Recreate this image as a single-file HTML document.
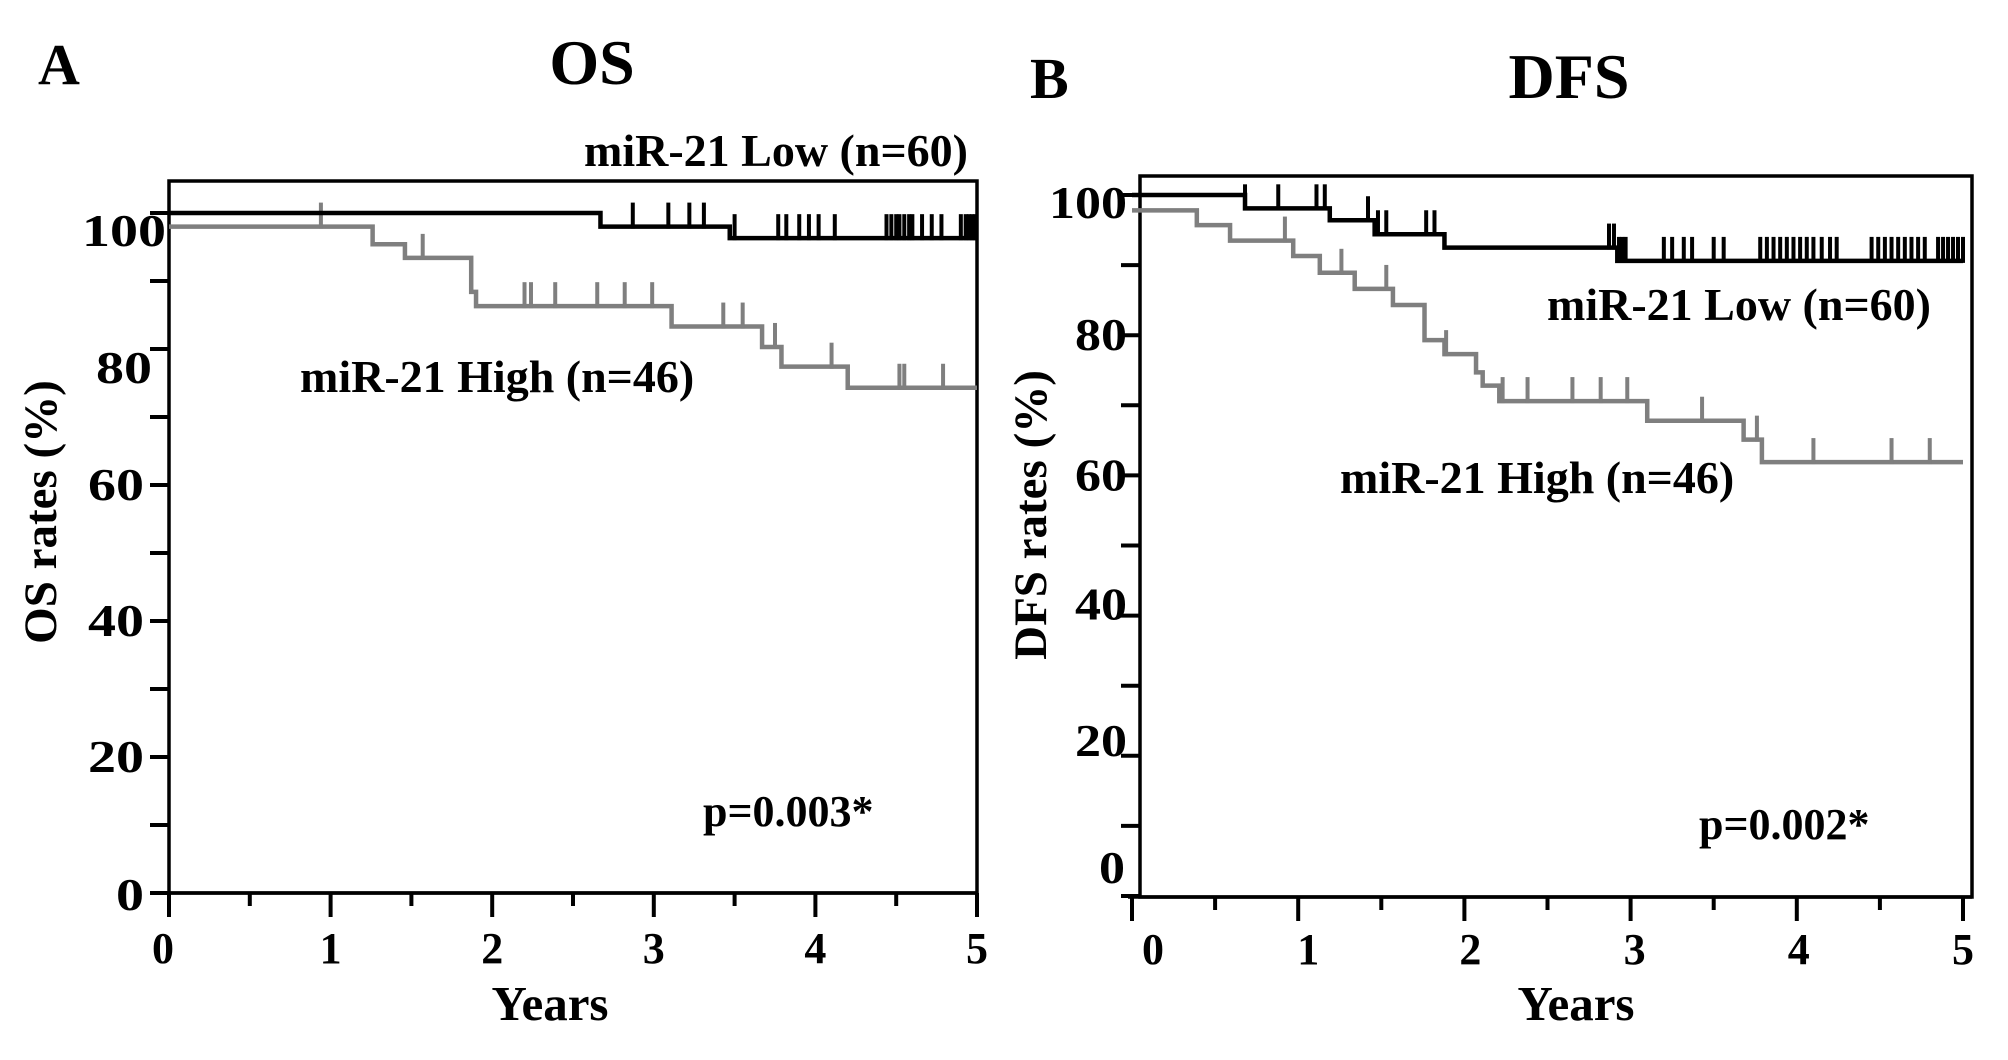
<!DOCTYPE html>
<html><head><meta charset="utf-8"><style>
html,body{margin:0;padding:0;background:#fff;}
svg text{font-family:"Liberation Serif",serif;font-weight:bold;fill:#000;}
</style></head><body>
<svg id="chart" width="2008" height="1055" viewBox="0 0 2008 1055" xmlns="http://www.w3.org/2000/svg">
<text x="38" y="84" font-size="58">A</text>
<text x="592" y="84" font-size="64" text-anchor="middle">OS</text>
<text x="1030" y="98" font-size="58">B</text>
<text x="1569" y="98" font-size="64" text-anchor="middle">DFS</text>
</svg>
<script>
// OS panel data
const osLowSteps = [[0,100],[2.67,98],[3.47,96.3]];
const osLowCensor = [2.87,3.09,3.22,3.31,3.5,3.77,3.82,3.9,3.96,4.02,4.12,4.44,4.47,4.5,4.52,4.55,4.58,4.6,4.66,4.72,4.78,4.9,4.93,4.95,4.97,4.99];
const osHighSteps = [[0,98],[1.26,95.4],[1.46,93.4],[1.87,88.4],[1.9,86.3],[3.11,83.3],[3.67,80.3],[3.79,77.4],[4.2,74.3]];
const osHighCensor = [0.94,1.57,2.2,2.24,2.39,2.65,2.82,2.99,3.43,3.55,3.75,4.1,4.52,4.55,4.79];
// DFS panel data
const dfsLowSteps = [[0,100],[0.68,98.1],[1.19,96.4],[1.46,94.4],[1.88,92.5],[2.92,90.6]];
const dfsLowCensor = [0.68,0.88,1.11,1.16,1.42,1.48,1.53,1.77,1.82,2.87,2.9,2.93,2.95,2.97,3.2,3.25,3.32,3.37,3.5,3.56,3.78,3.82,3.86,3.9,3.94,3.98,4.02,4.06,4.1,4.15,4.2,4.24,4.45,4.49,4.53,4.57,4.61,4.65,4.69,4.73,4.77,4.85,4.88,4.91,4.94,4.97,5.0];
const dfsHighSteps = [[0,97.8],[0.39,95.7],[0.59,93.5],[0.97,91.3],[1.13,88.9],[1.34,86.6],[1.57,84.3],[1.76,79.3],[1.88,77.3],[2.07,74.7],[2.11,72.8],[2.21,70.6],[3.1,67.8],[3.68,65.1],[3.79,61.9]];
const dfsHighCensor = [0.92,1.26,1.53,1.89,2.23,2.38,2.65,2.82,2.98,3.43,3.76,4.1,4.57,4.8];
const xTicks = [0,1,2,3,4,5];
const yTicks = [0,20,40,60,80,100];

const svg = document.getElementById('chart');
const NS = 'http://www.w3.org/2000/svg';
function mk(tag, attrs, parent){const e=document.createElementNS(NS,tag);for(const k in attrs)e.setAttribute(k,attrs[k]);(parent||svg).appendChild(e);return e;}

function panel(p){
  const g = mk('g',{});
  
  
  const X = t => p.x0 + (p.x5 - p.x0) * t / 5;
  const Y = v => p.y0 - (p.y0 - p.y100) * v / 100;
  const box = mk('rect',{x:p.bl,y:p.bt,width:p.br-p.bl,height:p.bb-p.bt,fill:'none',stroke:'#000','stroke-width':3.5},g);
  
  
  mk('line',{x1:Math.min(p.x0,p.bl)-4,y1:p.bb,x2:p.br,y2:p.bb,stroke:'#000','stroke-width':3.5},g);
  for(let i=0;i<=10;i++){
    const t=i/2, major=i%2===0;
    mk('line',{x1:X(t),y1:p.bb,x2:X(t),y2:p.bb+(major?24:13),stroke:'#000','stroke-width':4},g);
  }
  xTicks.forEach((t,i)=>{
    const tx=mk('text',{x:X(t)+p.xlOff[i],y:p.xlY,'font-size':44,'text-anchor':'middle'},g);
    tx.textContent=t;
    
    
  });
  for(let v=0;v<=100;v+=10){
    mk('line',{x1:p.bl-19,y1:Y(v),x2:p.bl,y2:Y(v),stroke:'#000','stroke-width':4},g);
  }
  yTicks.forEach((v,i)=>{
    const s=String(v);
    const tx=mk('text',{x:p.ylX+p.ylDx[i],y:Y(v)+15+p.ylDy[i],'font-size':46,'text-anchor':'end',textLength:s.length*p.cw,lengthAdjust:'spacingAndGlyphs'},g);
    tx.textContent=s;
    
    
  });
  const xt=mk('text',{x:p.xtX,y:p.xtY,'font-size':49,'text-anchor':'middle'},g);
  xt.textContent='Years';
  
  
  const yt=mk('text',{x:0,y:0,'font-size':47,'text-anchor':'middle',transform:`translate(${p.ytX},${p.ytY}) rotate(-90)`},g);
  yt.textContent=p.ytitle;
  
  
  function curve(steps, cens, color, name){
    let d='M'+X(steps[0][0])+','+Y(steps[0][1]);
    for(let i=1;i<steps.length;i++){d+=' H'+X(steps[i][0])+' V'+Y(steps[i][1]);}
    d+=' H'+X(5);
    const path=mk('path',{d:d,fill:'none',stroke:color,'stroke-width':4.5},g);
    
    
    cens.forEach(t=>{
      let v=steps[0][1];
      steps.forEach(s=>{if(s[0]<=t)v=s[1];});
      const c=mk('line',{x1:X(t),y1:Y(v)+2,x2:X(t),y2:Y(v)-24,stroke:color,'stroke-width':4},g);
      
      
    });
  }
  curve(p.high,p.highC,'#7f7f7f','high');
  curve(p.low,p.lowC,'#000','low');
  p.labels.forEach(l=>{
    const tx=mk('text',{x:l.x,y:l.y,'font-size':l.s||46,'text-anchor':l.a||'start'},g);
    tx.textContent=l.t;
    
    
  });
}

panel({id:'os',bl:169,br:977,bt:181,bb:893,x0:169,x5:977,y0:893,y100:213,
  xlY:963,xlOff:[-6,0,0,0,0,0],xtX:550,xtY:1020,ylX:144,cw:28,ylDx:[0,0,0,0,8,22],ylDy:[2,0,0,0,19,18],ytX:56,ytY:512,ytitle:'OS rates (%)',
  low:osLowSteps,lowC:osLowCensor,high:osHighSteps,highC:osHighCensor,
  labels:[{t:'miR-21 Low (n=60)',x:968,y:166,a:'end',n:'os-low-legend-label'},
          {t:'miR-21 High (n=46)',x:300,y:392,n:'os-high-legend-label'},
          {t:'p=0.003*',x:703,y:826,s:44,n:'os-p-value'}]});

panel({id:'dfs',bl:1140,br:1972,bt:176,bb:897,x0:1132,x5:1963,y0:896,y100:195,
  xlY:964,xlOff:[21,10,6,4,2,0],xtX:1576,xtY:1020,ylX:1127,cw:26,ylDx:[-2,0,0,0,0,0],ylDy:[-28,-15,-11,0,0,8],ytX:1046,ytY:515,ytitle:'DFS rates (%)',
  low:dfsLowSteps,lowC:dfsLowCensor,high:dfsHighSteps,highC:dfsHighCensor,
  labels:[{t:'miR-21 Low (n=60)',x:1547,y:320,n:'dfs-low-legend-label'},
          {t:'miR-21 High (n=46)',x:1340,y:493,n:'dfs-high-legend-label'},
          {t:'p=0.002*',x:1699,y:839,s:44,n:'dfs-p-value'}]});
</script>
</body></html>
